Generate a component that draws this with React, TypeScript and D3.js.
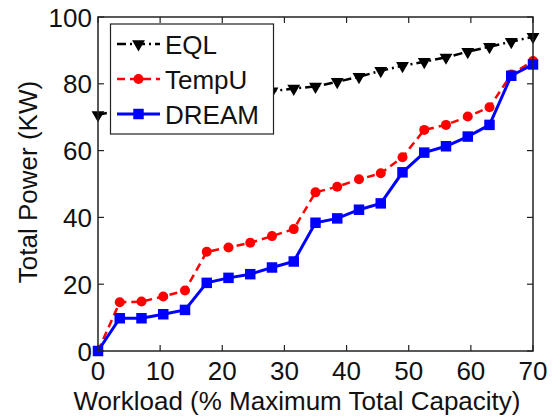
import React from "react";
import * as d3 from "d3";

// workload (% of maximum total capacity)
const workload = [0, 3.5, 7, 10.5, 14, 17.5, 21, 24.5, 28, 31.5, 35, 38.5, 42, 45.5, 49, 52.5, 56, 59.5, 63, 66.5, 70];
// total power (KW) per policy
const eql = [70.7, 72.0, 72.8, 73.6, 74.4, 75.2, 76.0, 76.8, 77.8, 78.6, 79.2, 80.6, 82.1, 83.9, 85.4, 86.6, 87.9, 89.6, 91.1, 92.6, 94.1];
const tempU = [0, 14.6, 14.8, 16.3, 18.1, 29.7, 31.0, 32.4, 34.4, 36.5, 47.5, 49.2, 51.4, 53.2, 58.0, 66.2, 67.7, 70.2, 73.0, 82.8, 86.8];
const dream = [0, 9.8, 9.8, 11.0, 12.3, 20.4, 21.9, 23.0, 25.0, 26.8, 38.4, 39.7, 42.3, 44.2, 53.5, 59.4, 61.3, 64.2, 67.7, 82.4, 85.8];

const xTicks = [0, 10, 20, 30, 40, 50, 60, 70];
const yTicks = [0, 20, 40, 60, 80, 100];
const seriesNames = ["EQL", "TempU", "DREAM"];

const W = 558;
const H = 417;
const font = "'Liberation Sans', Arial, Helvetica, sans-serif";
const fs = 26;

const App = () => {
    const x = d3.scaleLinear().domain([0, 70]).range([98, 533]);
    const y = d3.scaleLinear().domain([0, 100]).range([351, 17]);
    const [x0, x1] = x.range();
    const [y0, y1] = y.range();

    const line = d3.line<number>()
        .x((_, i) => x(workload[i]))
        .y((d) => y(d));

    const tri = d3.symbol().type(d3.symbolTriangle).size(72)();
    const square = d3.symbol().type(d3.symbolSquare).size(110)();

    // styles per series
    const styles = [
        { color: "#000000", dash: "9,4,2,4", width: 2.5, marker: "tri" },
        { color: "#ff0000", dash: "8,5", width: 2.5, marker: "circle" },
        { color: "#0000ff", dash: "", width: 3, marker: "square" },
    ];
    const allData = [eql, tempU, dream];

    const drawMarker = (kind: string, cx: number, cy: number, color: string, key: any) => {
        if (kind === "tri") {
            return <path key={key} d={tri} transform={`translate(${cx},${cy}) rotate(180)`} fill={color} />;
        }
        if (kind === "circle") {
            return <circle key={key} cx={cx} cy={cy} r={5} fill={color} />;
        }
        return <path key={key} d={square} transform={`translate(${cx},${cy})`} fill={color} />;
    };

    const tickLen = 6;

    return (
        <svg width={W} height={H} style={{ position: "absolute", left: 0, top: 0, background: "#fff" }}
            fontFamily={font}>
            {/* series */}
            {allData.map((data, s) => (
                <g key={s}>
                    <path d={line(data) || ""} fill="none" stroke={styles[s].color}
                        strokeWidth={styles[s].width} strokeDasharray={styles[s].dash} />
                    {data.map((v, i) => drawMarker(styles[s].marker, x(workload[i]), y(v), styles[s].color, i))}
                </g>
            ))}

            {/* axes box */}
            <rect x={x0} y={y1} width={x1 - x0} height={y0 - y1} fill="none" stroke="#222" strokeWidth={1.5} />
            {xTicks.map((t) => (
                <g key={"x" + t}>
                    <line x1={x(t)} x2={x(t)} y1={y0} y2={y0 - tickLen} stroke="#222" strokeWidth={1.2} />
                    <line x1={x(t)} x2={x(t)} y1={y1} y2={y1 + tickLen} stroke="#222" strokeWidth={1.2} />
                    <text x={x(t)} y={379.5} textAnchor="middle" fontSize={fs} fill="#111">{t}</text>
                </g>
            ))}
            {yTicks.map((t) => (
                <g key={"y" + t}>
                    <line x1={x0} x2={x0 + tickLen} y1={y(t)} y2={y(t)} stroke="#222" strokeWidth={1.2} />
                    <line x1={x1} x2={x1 - tickLen} y1={y(t)} y2={y(t)} stroke="#222" strokeWidth={1.2} />
                    <text x={92} y={y(t) + 9.5} textAnchor="end" fontSize={fs} fill="#111">{t}</text>
                </g>
            ))}

            {/* axis labels */}
            <text x={297} y={410} textAnchor="middle" fontSize={fs} fill="#111">
                Workload (% Maximum Total Capacity)
            </text>
            <text transform={`translate(37,182) rotate(-90)`} textAnchor="middle" fontSize={fs} fill="#111">
                Total Power (KW)
            </text>

            {/* legend */}
            <g>
                <rect x={110.5} y={24} width={163} height={110} fill="#fff" stroke="#222" strokeWidth={1.2} />
                {seriesNames.map((name, s) => {
                    const ly = 44 + s * 35;
                    return (
                        <g key={name}>
                            <line x1={117} x2={160} y1={ly} y2={ly} stroke={styles[s].color}
                                strokeWidth={styles[s].width} strokeDasharray={styles[s].dash} />
                            {drawMarker(styles[s].marker, 138.5, ly, styles[s].color, "m")}
                            <text x={165} y={ly + 9.5} fontSize={fs} fill="#111">{name}</text>
                        </g>
                    );
                })}
            </g>
        </svg>
    );
};

export default App;
